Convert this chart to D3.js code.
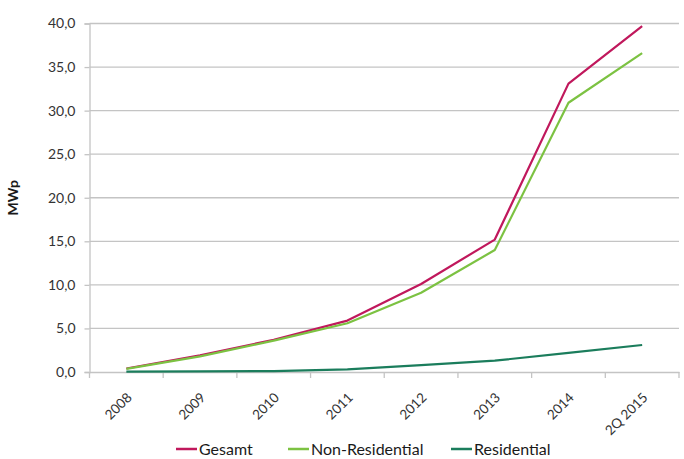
<!DOCTYPE html>
<html>
<head>
<meta charset="utf-8">
<script src="https://cdn.jsdelivr.net/npm/d3@7"></script>
<style>
  html, body { margin: 0; padding: 0; background: #fff; }
  svg { display: block; font-family: Lato, "Open Sans", sans-serif; }
</style>
</head>
<body>
<svg id="chart" width="684" height="459"></svg>
<script>
// Installed PV capacity (MWp) per year
const categories = ["2008", "2009", "2010", "2011", "2012", "2013", "2014", "2Q 2015"];
const gesamt = [0.4, 1.9, 3.7, 5.9, 10.1, 15.2, 33.1, 39.7];
const nonResidential = [0.35, 1.8, 3.6, 5.6, 9.1, 14.0, 30.9, 36.6];
const residential = [0.05, 0.08, 0.1, 0.3, 0.8, 1.3, 2.2, 3.1];
const yTicks = [0, 5, 10, 15, 20, 25, 30, 35, 40];

const seriesList = [
  { name: "Gesamt", values: gesamt, color: "#c0185c" },
  { name: "Non-Residential", values: nonResidential, color: "#7cc242" },
  { name: "Residential", values: residential, color: "#1b7d5c" }
];

const svg = d3.select("#chart");
const x0 = 89.5, x1 = 679;
const y0 = 372, y1 = 23.5;

const x = d3.scaleBand().domain(categories).range([x0, x1]).padding(0);
const y = d3.scaleLinear().domain([0, 40]).range([y0, y1]);

// Horizontal gridlines
svg.append("g")
  .selectAll("line")
  .data(yTicks.filter(d => d > 0))
  .join("line")
  .attr("x1", x0).attr("x2", x1)
  .attr("y1", d => y(d)).attr("y2", d => y(d))
  .attr("stroke", "#c4c4c4").attr("stroke-width", 1.3);

// Y axis
const fmt = d => d3.format(".1f")(d).replace(".", ",");
const yAxis = svg.append("g")
  .attr("transform", `translate(${x0},0)`)
  .call(d3.axisLeft(y).tickValues(yTicks).tickFormat(fmt).tickSize(5).tickPadding(9));
yAxis.select(".domain").attr("stroke", "#c4c4c4").attr("stroke-width", 1.3);
yAxis.selectAll(".tick line").attr("stroke", "#c4c4c4").attr("stroke-width", 1.3);
yAxis.selectAll("text").attr("fill", "#333").style("font-size", "14px").style("font-family", "Lato, sans-serif");

// X axis
const xAxis = svg.append("g")
  .attr("transform", `translate(0,${y0})`)
  .call(d3.axisBottom(x).tickSize(0).tickFormat(""));
xAxis.select(".domain").attr("stroke", "#c4c4c4").attr("stroke-width", 1.3);

// Category boundary ticks
const bounds = categories.map(c => x(c)).concat([x1]);
svg.append("g").selectAll("line")
  .data(bounds)
  .join("line")
  .attr("x1", d => d).attr("x2", d => d)
  .attr("y1", y0).attr("y2", y0 + 6)
  .attr("stroke", "#c4c4c4").attr("stroke-width", 1.3);

// Rotated category labels
svg.append("g").selectAll("text")
  .data(categories)
  .join("text")
  .attr("transform", d => `translate(${x(d) + x.bandwidth() / 2 + 3},${y0 + 23}) rotate(-45)`)
  .attr("text-anchor", "end")
  .attr("dy", "0.35em")
  .attr("fill", "#333")
  .style("font-size", "13.5px")
  .text(d => d);

// Y axis title
svg.append("text")
  .attr("transform", `translate(18,${(y0 + y1) / 2}) rotate(-90)`)
  .attr("text-anchor", "middle")
  .attr("fill", "#1a1a1a")
  .style("font-size", "14px")
  .style("font-weight", "bold")
  .text("MWp");

// Lines
const line = d3.line()
  .x((d, i) => x(categories[i]) + x.bandwidth() / 2)
  .y(d => y(d));

svg.append("g").selectAll("path")
  .data(seriesList)
  .join("path")
  .attr("d", s => line(s.values))
  .attr("fill", "none")
  .attr("stroke", s => s.color)
  .attr("stroke-width", 2.2)
  .attr("stroke-linejoin", "round");

// Legend
const legendX = [176, 288, 451];
const legend = svg.append("g").selectAll("g")
  .data(seriesList)
  .join("g")
  .attr("transform", (s, i) => `translate(${legendX[i]},449)`);
legend.append("line")
  .attr("x1", 0).attr("x2", 21)
  .attr("stroke", s => s.color).attr("stroke-width", 2.5);
legend.append("text")
  .attr("x", 23)
  .attr("dy", "0.35em")
  .attr("fill", "#1a1a1a")
  .style("font-size", "16px")
  .text(s => s.name);
</script>
</body>
</html>
